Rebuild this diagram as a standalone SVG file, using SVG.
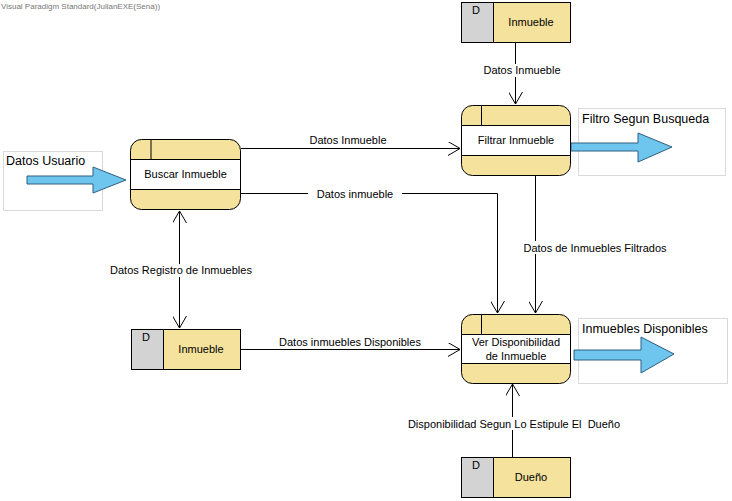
<svg xmlns="http://www.w3.org/2000/svg" width="732" height="501" viewBox="0 0 732 501">
  <style>
    text { font-family: "Liberation Sans", Arial, sans-serif; fill: #000; }
    .lbl { font-size: 11px; text-anchor: middle; }
    .ent { font-size: 12.5px; }
    .proc { fill: #f5e39d; stroke: #000; stroke-width: 1; }
    .band { fill: #fff; stroke: #000; stroke-width: 1; }
    .store-d { fill: #d3d3d3; stroke: #000; stroke-width: 1; }
    .store-b { fill: #f5e39d; stroke: #000; stroke-width: 1; }
    .extbox { fill: #fff; stroke: #d9d9d9; stroke-width: 1; }
    .bigarrow { fill: #6ec6ee; stroke: #2f5f80; stroke-width: 1; }
    .flow { fill: none; stroke: #000; stroke-width: 1; }
    .bg { fill: #fff; }
  </style>
  <defs>
    <marker id="open" viewBox="0 0 12 14" refX="12" refY="7" markerWidth="12" markerHeight="14" markerUnits="userSpaceOnUse" orient="auto-start-reverse">
      <path d="M0,0 L12,7 L0,14" fill="none" stroke="#000" stroke-width="1"/>
    </marker>
  </defs>

  <rect width="732" height="501" fill="#fff"/>
  <text x="1" y="9" style="font-size:8px; fill:#777">Visual Paradigm Standard(JulianEXE(Sena))</text>

  <!-- external entities -->
  <g id="ext-datos-usuario">
    <rect class="extbox" x="3.5" y="151.5" width="99" height="59"/>
    <text class="ent" x="6" y="165">Datos Usuario</text>
    <path class="bigarrow" d="M27,176 L93,176 L93,167 L126,180 L93,193 L93,184 L27,184 Z"/>
  </g>
  <g id="ext-filtro">
    <rect class="extbox" x="578.5" y="108.5" width="147" height="67"/>
    <text class="ent" x="582" y="123">Filtro Segun Busqueda</text>
    <path class="bigarrow" d="M571,143 L638,143 L638,133 L672,147 L638,162 L638,151 L571,151 Z"/>
  </g>
  <g id="ext-disponibles">
    <rect class="extbox" x="578.5" y="318.5" width="149" height="65"/>
    <text class="ent" x="582" y="333">Inmuebles Disponibles</text>
    <path class="bigarrow" d="M574,350 L641,350 L641,337 L674,354 L641,373 L641,360 L574,360 Z"/>
  </g>

  <!-- processes -->
  <g id="proc-buscar">
    <rect class="proc" x="130.5" y="139.5" width="110" height="70" rx="11"/>
    <rect class="band" x="130.5" y="159.5" width="110" height="30"/>
    <line x1="151" y1="139.5" x2="151" y2="159.5" stroke="#000"/>
    <text class="lbl" x="185.5" y="178">Buscar Inmueble</text>
  </g>
  <g id="proc-filtrar">
    <rect class="proc" x="461.5" y="105.5" width="109" height="70" rx="11"/>
    <rect class="band" x="461.5" y="125.5" width="109" height="30"/>
    <line x1="481.5" y1="105.5" x2="481.5" y2="125.5" stroke="#000"/>
    <text class="lbl" x="516" y="144">Filtrar Inmueble</text>
  </g>
  <g id="proc-ver">
    <rect class="proc" x="461.5" y="314.5" width="109" height="69" rx="11"/>
    <rect class="band" x="461.5" y="334.5" width="109" height="29"/>
    <line x1="481.5" y1="314.5" x2="481.5" y2="334.5" stroke="#000"/>
    <text class="lbl" x="516" y="346">Ver Disponibilidad</text>
    <text class="lbl" x="516" y="360">de Inmueble</text>
  </g>

  <!-- data stores -->
  <g id="store-inmueble-top">
    <rect class="store-b" x="461.5" y="2.5" width="109" height="40"/>
    <rect class="store-d" x="461.5" y="2.5" width="32" height="40"/>
    <text class="lbl" x="476" y="14">D</text>
    <text class="lbl" x="531" y="26">Inmueble</text>
  </g>
  <g id="store-inmueble-left">
    <rect class="store-b" x="131.5" y="329.5" width="109" height="40"/>
    <rect class="store-d" x="131.5" y="329.5" width="32" height="40"/>
    <text class="lbl" x="146" y="341">D</text>
    <text class="lbl" x="201" y="353">Inmueble</text>
  </g>
  <g id="store-dueno">
    <rect class="store-b" x="461.5" y="457.5" width="109" height="40"/>
    <rect class="store-d" x="461.5" y="457.5" width="32" height="40"/>
    <text class="lbl" x="476" y="469">D</text>
    <text class="lbl" x="531" y="481">Dueño</text>
  </g>

  <!-- data flows -->
  <g id="flows">
    <path class="flow" d="M515.5,43 L515.5,104" marker-end="url(#open)"/>
    <rect class="bg" x="481" y="64" width="84" height="13"/>
    <text class="lbl" x="522" y="74">Datos Inmueble</text>

    <path class="flow" d="M241,148.5 L460,148.5" marker-end="url(#open)"/>
    <text class="lbl" x="348" y="144">Datos Inmueble</text>

    <path class="flow" d="M241,193.5 L497.5,193.5 L497.5,313" marker-end="url(#open)"/>
    <rect class="bg" x="308" y="188" width="94" height="13"/>
    <text class="lbl" x="355" y="198">Datos inmueble</text>

    <path class="flow" d="M535.5,176 L535.5,313" marker-end="url(#open)"/>
    <rect class="bg" x="520" y="241" width="150" height="13"/>
    <text class="lbl" x="595" y="252">Datos de Inmuebles Filtrados</text>

    <path class="flow" d="M179.5,211 L179.5,328" marker-start="url(#open)" marker-end="url(#open)"/>
    <rect class="bg" x="109" y="264" width="144" height="13"/>
    <text class="lbl" x="181" y="274">Datos Registro de Inmuebles</text>

    <path class="flow" d="M241,349.5 L460,349.5" marker-end="url(#open)"/>
    <text class="lbl" x="350" y="346">Datos inmuebles Disponibles</text>

    <path class="flow" d="M512.5,457 L512.5,384" marker-end="url(#open)"/>
    <rect class="bg" x="405" y="417" width="218" height="13"/>
    <text class="lbl" x="514" y="428" xml:space="preserve">Disponibilidad Segun Lo Estipule El  Dueño</text>
  </g>
</svg>
